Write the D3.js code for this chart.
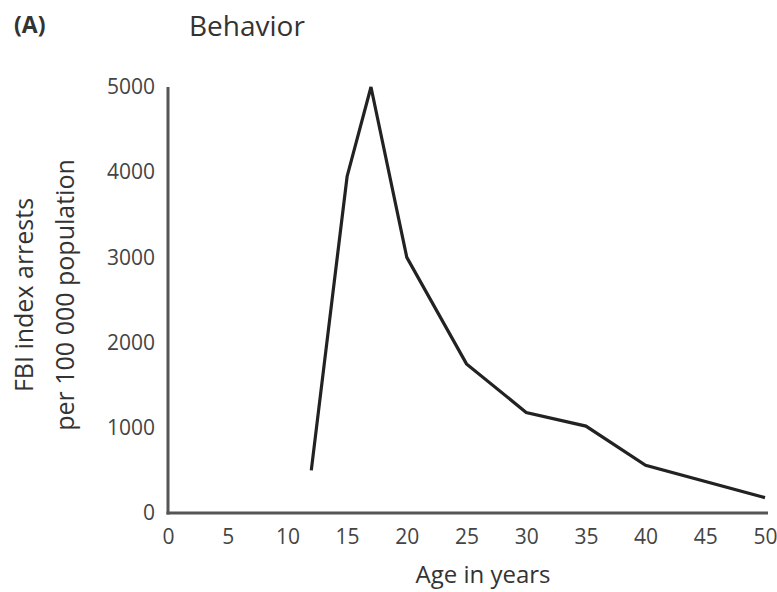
<!DOCTYPE html>
<html>
<head>
<meta charset="utf-8">
<script src="https://cdn.jsdelivr.net/npm/d3@7"></script>
<style>
  html, body { margin: 0; padding: 0; background: #fff; }
  svg { display: block; font-family: "Open Sans", sans-serif; }
</style>
</head>
<body>
<svg id="chart" width="777" height="592"></svg>
<script>
// Age-crime curve: arrests per 100 000 population by age
const ages    = [12, 15, 17, 20, 25, 30, 35, 40, 50];
const arrests = [500, 3950, 5000, 3000, 1750, 1180, 1020, 560, 180];
const xTicks  = [0, 5, 10, 15, 20, 25, 30, 35, 40, 45, 50];
const yTicks  = [0, 1000, 2000, 3000, 4000, 5000];

const svg = d3.select("#chart");
const plotL = 168, plotR = 765, plotT = 87, plotB = 513;

const x = d3.scaleLinear().domain([0, 50]).range([plotL, plotR]);
const y = d3.scaleLinear().domain([0, 5000]).range([plotB, plotT]);

// Axis lines
const axisColor = "#555";
svg.append("line")
  .attr("x1", x(0)).attr("x2", x(0))
  .attr("y1", y(5000)).attr("y2", y(0) + 1.5)
  .attr("stroke", axisColor).attr("stroke-width", 3);
svg.append("line")
  .attr("x1", x(0) - 1.5).attr("x2", plotR + 3)
  .attr("y1", y(0)).attr("y2", y(0))
  .attr("stroke", axisColor).attr("stroke-width", 3);

// Tick labels via d3 axes with hidden tick marks
const yAxis = svg.append("g")
  .attr("transform", `translate(${plotL},0)`)
  .call(d3.axisLeft(y).tickValues(yTicks).tickSize(0).tickPadding(13).tickFormat(d3.format("d")));
const xAxis = svg.append("g")
  .attr("transform", `translate(0,${plotB})`)
  .call(d3.axisBottom(x).tickValues(xTicks).tickSize(0).tickPadding(16).tickFormat(d3.format("d")));
[yAxis, xAxis].forEach(g => {
  g.select(".domain").remove();
  g.selectAll("text")
    .attr("fill", "#444")
    .style("font-family", '"Open Sans", sans-serif')
    .style("font-size", "21px");
});

// Data line
const line = d3.line().x((d, i) => x(ages[i])).y(d => y(d));
svg.append("path")
  .datum(arrests)
  .attr("d", line)
  .attr("fill", "none")
  .attr("stroke", "#222")
  .attr("stroke-width", 3.2)
  .attr("stroke-linejoin", "miter");

// Titles and labels
svg.append("text")
  .attr("x", 14).attr("y", 33)
  .attr("font-size", 23).attr("font-weight", "bold").attr("fill", "#333")
  .text("(A)");
svg.append("text")
  .attr("x", 189).attr("y", 36)
  .attr("font-size", 28).attr("fill", "#333")
  .text("Behavior");
svg.append("text")
  .attr("x", 483).attr("y", 583)
  .attr("text-anchor", "middle")
  .attr("font-size", 24).attr("fill", "#333")
  .text("Age in years");

const yl = svg.append("text")
  .attr("transform", `translate(0,295) rotate(-90)`)
  .attr("text-anchor", "middle")
  .attr("font-size", 25).attr("fill", "#333");
yl.append("tspan").attr("x", 0).attr("y", 33).text("FBI index arrests");
yl.append("tspan").attr("x", 0).attr("y", 74).text("per 100 000 population");
</script>
</body>
</html>
